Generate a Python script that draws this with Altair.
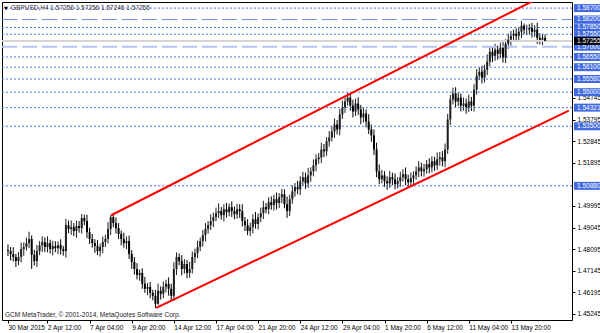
import altair as alt
import pandas as pd

# ---------------- data (prices x 10000) ----------------
closes = [
    14801, 14788, 14775, 14757, 14775, 14810, 14819, 14836, 14854, 14784,
    14757, 14801, 14827, 14841, 14819, 14836, 14810, 14823, 14814, 14827,
    14810, 14801, 14915, 14898, 14906, 14889, 14911, 14902, 14946, 14933,
    14884, 14854, 14836, 14823, 14801, 14819, 14841, 14854, 14898, 14950,
    14924, 14902, 14876, 14854, 14836, 14845, 14788, 14753, 14722, 14696,
    14705, 14657, 14635, 14643, 14617, 14604, 14569, 14626, 14613, 14643,
    14657, 14635, 14604, 14722, 14775, 14757, 14722, 14744, 14705, 14722,
    14775, 14792, 14819, 14845, 14871, 14898, 14915, 14933, 14950, 14968,
    14977, 14959, 14985, 14972, 14994, 14977, 14963, 14985, 14977, 14933,
    14915, 14889, 14906, 14941, 14920, 14950, 14968, 14994, 14985, 15016,
    15003, 15029, 15012, 15038, 15051, 15007, 14977, 15029, 15064, 15082,
    15073, 15108, 15126, 15099, 15134, 15152, 15178, 15205, 15213, 15248,
    15240, 15284, 15301, 15327, 15358, 15336, 15402, 15433, 15459, 15476,
    15441, 15415, 15450, 15424, 15389, 15406, 15371, 15336, 15310, 15248,
    15152, 15117, 15134, 15108, 15099, 15126, 15117, 15095, 15108, 15126,
    15139, 15117, 15104, 15121, 15134, 15152, 15169, 15152, 15161, 15183,
    15169, 15196, 15178, 15205, 15213, 15196, 15248, 15380, 15468, 15494,
    15459, 15476, 15441, 15450, 15433, 15459, 15441, 15511, 15573, 15590,
    15564, 15599, 15634, 15678, 15660, 15687, 15669, 15696, 15652, 15713,
    15731, 15748, 15757, 15748, 15766, 15792, 15775, 15775, 15783, 15766,
    15775, 15739, 15731, 15739, 15725.6, 15725.5,
]
upper_wick = [
    25, 18, 30, 14, 22, 28, 20, 24, 32, 16,
    22, 27, 18, 25, 20, 30, 15, 23, 21, 17,
    26, 14, 28, 20, 30, 18, 24, 22, 18, 15,
    28, 20, 22, 17, 26, 15, 24, 19, 30, 9,
    18, 25, 22, 15, 28, 20, 24, 17, 22, 26,
    15, 20, 30, 18, 22, 14, 26, 32, 20, 24,
    18, 28, 22, 30, 20, 16, 26, 22, 18, 32,
    24, 20, 28, 16, 22, 26, 18, 30, 20, 24,
    34, 18, 22, 28, 16, 26, 20, 24, 22, 30,
    18, 26, 20, 22, 32, 16, 24, 28, 18, 22,
    26, 20, 30, 18, 24, 22, 34, 20, 26, 18,
    28, 22, 24, 20, 32, 18, 26, 22, 20, 30,
    24, 18, 28, 22, 26, 20, 24, 30, 18, 22,
    20, 26, 22, 28, 20, 24, 18, 32, 22, 26,
    30, 30, 24, 18, 22, 28, 20, 26, 18, 24,
    22, 30, 20, 26, 18, 22, 28, 20, 24, 18,
    26, 22, 20, 30, 24, 28, 26, 25, 20, 26,
    28, 24, 18, 26, 22, 30, 20, 24, 28, 18,
    26, 22, 32, 20, 24, 26, 18, 22, 24, 20,
    26, 22, 18, 24, 20, 22, 10, 22, 18, 22,
    20, 31, 20, 18, 15, 0,
]
lower_wick = [
    22, 28, 20, 26, 18, 24, 30, 16, 22, 62,
    20, 26, 18, 30, 22, 24, 20, 28, 18, 26,
    24, 20, 28, 18, 26, 22, 30, 20, 24, 18,
    26, 22, 20, 30, 18, 24, 28, 22, 20, 26,
    18, 24, 22, 28, 20, 26, 22, 30, 24, 20,
    26, 22, 18, 28, 24, 20, 18, 4, 26, 20,
    24, 30, 20, 22, 26, 18, 28, 20, 24, 22,
    20, 26, 22, 18, 24, 28, 20, 22, 26, 18,
    22, 20, 28, 24, 18, 26, 22, 20, 30, 24,
    26, 18, 22, 28, 20, 24, 22, 26, 18, 22,
    20, 24, 28, 22, 26, 18, 30, 22, 20, 24,
    22, 26, 18, 24, 20, 28, 22, 26, 20, 24,
    26, 20, 24, 18, 28, 22, 26, 20, 24, 18,
    22, 26, 20, 24, 30, 22, 26, 20, 28, 24,
    26, 22, 18, 24, 28, 20, 26, 22, 18, 24,
    20, 26, 22, 18, 24, 20, 26, 22, 24, 20,
    26, 22, 24, 20, 28, 22, 26, 20, 24, 22,
    24, 20, 26, 22, 28, 20, 24, 26, 22, 20,
    26, 22, 24, 20, 28, 22, 26, 20, 22, 24,
    22, 26, 20, 24, 22, 28, 20, 24, 22, 26,
    22, 26, 20, 24, 2, 1,
]
first_open = 14805

# price-scale labels that are not covered by a level box
price_ticks = [1.45245, 1.46195, 1.47145, 1.48095, 1.49045, 1.49995,
               1.51895, 1.52845, 1.53795, 1.54745]
date_ticks = [0, 15, 31, 47, 63, 79, 95, 111, 127, 143, 159, 175, 191]
date_labels = ["30 Mar 2015", "2 Apr 12:00", "7 Apr 04:00", "9 Apr 20:00", "14 Apr 12:00",
               "17 Apr 04:00", "21 Apr 20:00", "24 Apr 12:00", "29 Apr 04:00", "1 May 20:00",
               "6 May 12:00", "11 May 04:00", "13 May 20:00"]

dotted_levels = [1.58700, 1.57850, 1.57550, 1.56550, 1.56100, 1.55580, 1.55000,
                 1.54321, 1.53500, 1.50880]
dashed_levels = [1.58200]
light_dashed_levels = [1.57000]
current_price = 1.57255

trend_upper_i = [39.2, 213.0]
trend_upper_p = [1.49586, 1.59814]
trend_lower_i = [56.3, 213.0]
trend_lower_p = [1.45509, 1.54185]

header = "GBPUSD,H4  1.57256 1.57256 1.57246 1.57255"
footer = "GCM MetaTrader, \u00a9 2001-2014, MetaQuotes Software Corp."

# ---------------- tables ----------------
opens = [first_open] + closes[:-1]
rows = []
for k, (o, c, u, l) in enumerate(zip(opens, closes, upper_wick, lower_wick)):
    rows.append({
        "i": k,
        "open": o / 10000, "close": c / 10000,
        "high": (max(o, c) + u) / 10000, "low": (min(o, c) - l) / 10000,
        "dir": "up" if c >= o else "down",
    })
candles = pd.DataFrame(rows)

levels = pd.DataFrame(
    [{"p": v, "kind": "dotted"} for v in dotted_levels]
    + [{"p": v, "kind": "dashed"} for v in dashed_levels]
    + [{"p": v, "kind": "light"} for v in light_dashed_levels]
)
levels["label"] = levels["p"].map(lambda v: f"{v:.5f}")
cur = pd.DataFrame({"p": [current_price], "label": [f"{current_price:.5f}"]})

trend = pd.DataFrame({
    "i": trend_upper_i + trend_lower_i,
    "p": trend_upper_p + trend_lower_p,
    "line": ["upper"] * 2 + ["lower"] * 2,
})

# ---------------- scales / axes ----------------
xscale = alt.Scale(domain=[-0.373, 212.31], nice=False, zero=False)
yscale = alt.Scale(domain=[1.44977, 1.58968], nice=False, zero=False)

labels_js = "[" + ",".join(f"'{s}'" for s in date_labels) + "]"
idx_js = "[" + ",".join(str(v) for v in date_ticks) + "]"

xaxis = alt.Axis(values=date_ticks, labelExpr=f"{labels_js}[indexof({idx_js}, datum.value)]",
                 title=None, grid=False, domain=False, tickSize=3, tickColor="#000",
                 labelAlign="left", labelPadding=1, labelFontSize=6.5, labelColor="#000",
                 labelFont="Liberation Sans", labelOverlap=False, labelFlush=False)
yaxis = alt.Axis(orient="right", values=price_ticks, format=".5f", title=None, grid=False,
                 domain=False, tickSize=3, tickColor="#000", labelPadding=2,
                 labelFontSize=6.5, labelColor="#000", labelFont="Liberation Sans",
                 labelOverlap=False, labelFlush=False)


def X(f):
    return alt.X(f, scale=xscale, axis=xaxis)


def Y(f):
    return alt.Y(f, scale=yscale, axis=yaxis)


def hline(df, color, dash, width):
    return alt.Chart(df).mark_rule(color=color, strokeDash=dash, strokeWidth=width).encode(
        x=alt.value(0), x2=alt.value(570), y=Y("p:Q"))


dotted = hline(levels[levels.kind == "dotted"], "#4f74e3", [2, 2], 1)
dashed = hline(levels[levels.kind == "dashed"], "#6d8ee3", [15, 5], 1)
light = hline(levels[levels.kind == "light"], "#b3c6ef", [15, 5], 2)
curline = alt.Chart(cur).mark_rule(color="#d4d4d4", strokeWidth=2).encode(
    x=alt.value(0), x2=alt.value(570), y=Y("p:Q"))

wick_color = alt.Color("dir:N", scale=alt.Scale(domain=["up", "down"], range=["#1e1e1e", "#000000"]),
                       legend=None)
body_color = alt.Color("dir:N", scale=alt.Scale(domain=["up", "down"], range=["#9c9c9c", "#000000"]),
                       legend=None)
wicks = alt.Chart(candles).mark_rule(strokeWidth=1).encode(
    x=X("i:Q"), y=Y("low:Q"), y2="high:Q", color=wick_color)
bodies = alt.Chart(candles).mark_bar(size=2).encode(
    x=X("i:Q"), y=Y("open:Q"), y2="close:Q", color=body_color)

trends = alt.Chart(trend).mark_line(color="#ff0000", strokeWidth=2, clip=True).encode(
    x=X("i:Q"), y=Y("p:Q"), detail="line:N")

boxes = alt.Chart(levels).mark_rule(color="#4169e1", strokeWidth=8, strokeCap="butt").encode(
    x=alt.value(572), x2=alt.value(598), y=Y("p:Q"))
box_text = alt.Chart(levels).mark_text(color="#ffffff", fontSize=6.5, align="left",
                                       baseline="middle", font="Liberation Sans").encode(
    x=alt.value(575), y=Y("p:Q"), text="label:N")
cur_box = alt.Chart(cur).mark_rule(color="#000000", strokeWidth=8, strokeCap="butt").encode(
    x=alt.value(572), x2=alt.value(598), y=Y("p:Q"))
cur_text = alt.Chart(cur).mark_text(color="#ffffff", fontSize=6.5, align="left",
                                    baseline="middle", font="Liberation Sans").encode(
    x=alt.value(575), y=Y("p:Q"), text="label:N")

head_df = pd.DataFrame({"t": [header]})
foot_df = pd.DataFrame({"t": [footer]})
tri_df = pd.DataFrame({"t": ["\u25bc"]})
head = alt.Chart(head_df).mark_text(align="left", baseline="middle", fontSize=6.5,
                                     color="#333333", font="Liberation Sans").encode(
    x=alt.value(9), y=alt.value(6), text="t:N")
tri = alt.Chart(tri_df).mark_text(align="left", baseline="middle", fontSize=5,
                                   color="#000000", font="DejaVu Sans").encode(
    x=alt.value(2), y=alt.value(6), text="t:N")
foot = alt.Chart(foot_df).mark_text(align="left", baseline="middle", fontSize=6.5,
                                     color="#222222", font="Liberation Sans").encode(
    x=alt.value(3), y=alt.value(313), text="t:N")

chart = alt.layer(
    wicks, dotted, dashed, light, curline, bodies, trends,
    boxes, box_text, cur_box, cur_text, head, tri, foot,
).properties(
    width=570, height=318,
    padding={"left": 2, "top": 2, "right": 28, "bottom": 13},
    autosize=alt.AutoSizeParams(type="none"),
    background="#ffffff",
).configure_view(stroke="#000000", strokeWidth=1)

chart.save("out.html", embed_options={"renderer": "svg", "actions": False})
